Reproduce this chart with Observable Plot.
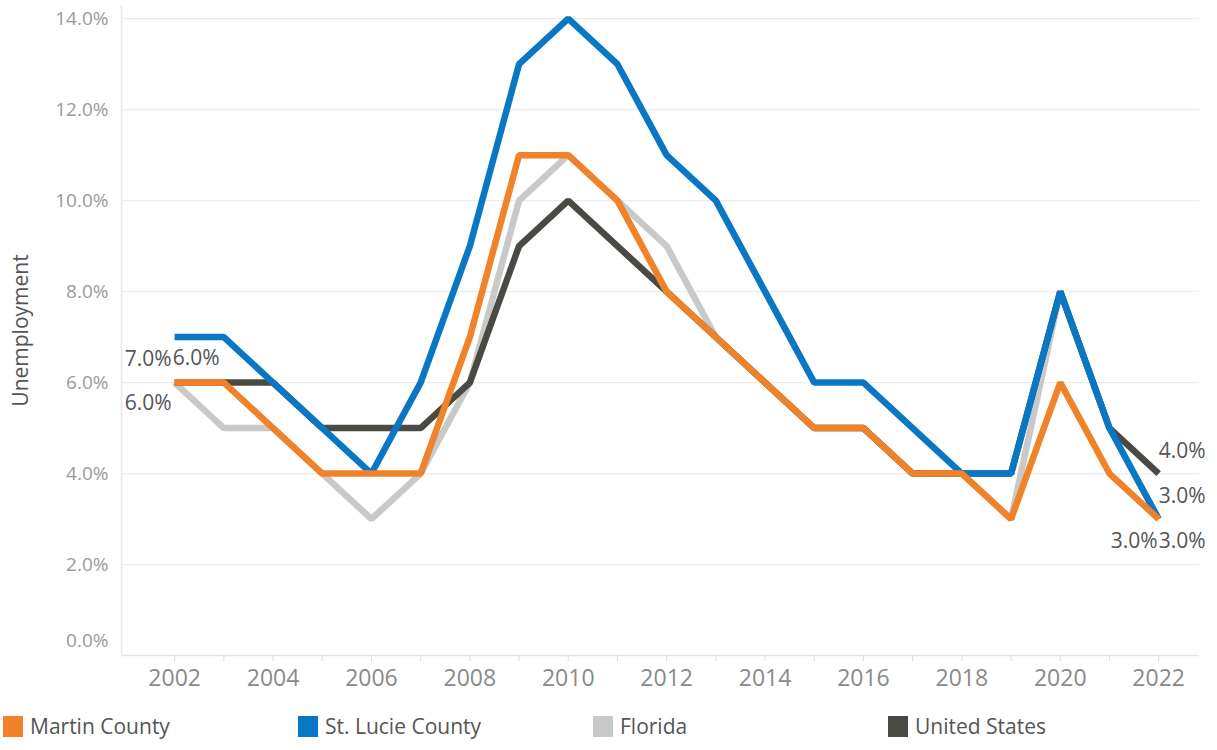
<!DOCTYPE html>
<html>
<head>
<meta charset="utf-8">
<script src="https://cdn.jsdelivr.net/npm/d3@7"></script>
<script src="https://cdn.jsdelivr.net/npm/@observablehq/plot@0.6"></script>
<style>
  body { margin: 0; background: #fff; }
  #legend { display: flex; margin-top: 12px; margin-left: 3px; font-family: "Open Sans", sans-serif; font-size: 21px; color: #555; }
  #legend .item { width: 295px; display: flex; align-items: center; }
  #legend .sw { width: 20px; height: 21px; margin-right: 7px; }
</style>
</head>
<body>
<div id="chart"></div>
<div id="legend"></div>
<script>
const years = [2002,2003,2004,2005,2006,2007,2008,2009,2010,2011,2012,2013,2014,2015,2016,2017,2018,2019,2020,2021,2022];
const martin   = [6,6,5,4,4,4,7,11,11,10,8,7,6,5,5,4,4,3,6,4,3];
const stLucie  = [7,7,6,5,4,6,9,13,14,13,11,10,8,6,6,5,4,4,8,5,3];
const florida  = [6,5,5,4,3,4,6,10,11,10,9,7,6,5,5,4,4,3,8,5,3];
const usa      = [6,6,6,5,5,5,6,9,10,9,8,7,6,5,5,4,4,4,8,5,4];
const seriesNames = ["Martin County","St. Lucie County","Florida","United States"];
const seriesColors = ["#F0822A","#0A77C4","#C9C9C9","#4A4A44"];
const yTicks = [2,4,6,8,10,12,14];
const yTickZero = [0];
const xTickYears = years;
const xDomain = [2000.92, 2022.83];
const yDomain = [0, 14.29];

const seriesValues = [martin, stLucie, florida, usa];
const rows = [];
seriesNames.forEach((name, i) => years.forEach((yr, j) => rows.push({series: name, year: yr, value: seriesValues[i][j]})));
// draw order bottom -> top
const drawOrder = ["Florida","United States","St. Lucie County","Martin County"];

const fmt = d => d.toFixed(1) + "%";
const pick = (name, yr) => rows.filter(r => r.series === name && r.year === yr);

const labelStyle = {fill: "#555", fontSize: 21, fontFamily: "Open Sans, sans-serif", text: d => fmt(d.value), x: "year", y: "value"};

const chart = Plot.plot({
  width: 1217, height: 700,
  marginTop: 5, marginBottom: 45, marginLeft: 121, marginRight: 18,
  style: {fontFamily: "Open Sans, sans-serif", background: "#fff"},
  x: {domain: xDomain},
  y: {domain: yDomain},
  color: {domain: seriesNames, range: seriesColors},
  marks: [
    Plot.ruleY(yTicks, {stroke: "#ececec", strokeWidth: 1.3}),
    Plot.ruleY(yTickZero, {stroke: "#e4e4e4", strokeWidth: 1.5}),
    Plot.ruleX([xDomain[0]], {stroke: "#e8e8e8", strokeWidth: 1.5}),
    Plot.axisY(yTicks, {tickSize: 0, tickPadding: 13, tickFormat: fmt, fontSize: 19, fill: "#9a9a9a", label: null}),
    Plot.axisY(yTickZero, {tickSize: 0, tickPadding: 13, tickFormat: fmt, fontSize: 19, fill: "#9a9a9a", dy: -15, label: null}),
    Plot.text(["Unemployment"], {frameAnchor: "left", textAnchor: "middle", dx: -100, rotate: -90, fontSize: 21, fill: "#555"}),
    Plot.axisX(xTickYears, {tickSize: 6, tickPadding: 8, stroke: "#ddd", fill: "#8a8a8a", fontSize: 23, tickFormat: d => d % 2 === 0 ? String(d) : "", label: null}),
    ...drawOrder.map(name => Plot.line(rows.filter(r => r.series === name), {x: "year", y: "value", stroke: "series", strokeWidth: 6.5, strokeLinejoin: "miter", strokeLinecap: "butt"})),
    // start labels
    Plot.text(pick("St. Lucie County", 2002), {...labelStyle, textAnchor: "end", dx: -3, dy: 22}),
    Plot.text(pick("United States", 2002), {...labelStyle, textAnchor: "start", dx: -2, dy: -24}),
    Plot.text(pick("Martin County", 2002), {...labelStyle, textAnchor: "end", dx: -3, dy: 21}),
    // end labels
    Plot.text(pick("United States", 2022), {...labelStyle, textAnchor: "start", dx: 0, dy: -22}),
    Plot.text(pick("St. Lucie County", 2022), {...labelStyle, textAnchor: "start", dx: 0, dy: -23}),
    Plot.text(pick("Florida", 2022), {...labelStyle, textAnchor: "end", dx: -1, dy: 22}),
    Plot.text(pick("Martin County", 2022), {...labelStyle, textAnchor: "start", dx: 0, dy: 22})
  ]
});
document.getElementById("chart").appendChild(chart);

const legend = document.getElementById("legend");
seriesNames.forEach((name, i) => {
  const item = document.createElement("div");
  item.className = "item";
  const sw = document.createElement("div");
  sw.className = "sw";
  sw.style.background = seriesColors[i];
  const t = document.createElement("span");
  t.textContent = name;
  item.appendChild(sw); item.appendChild(t);
  legend.appendChild(item);
});
</script>
</body>
</html>
